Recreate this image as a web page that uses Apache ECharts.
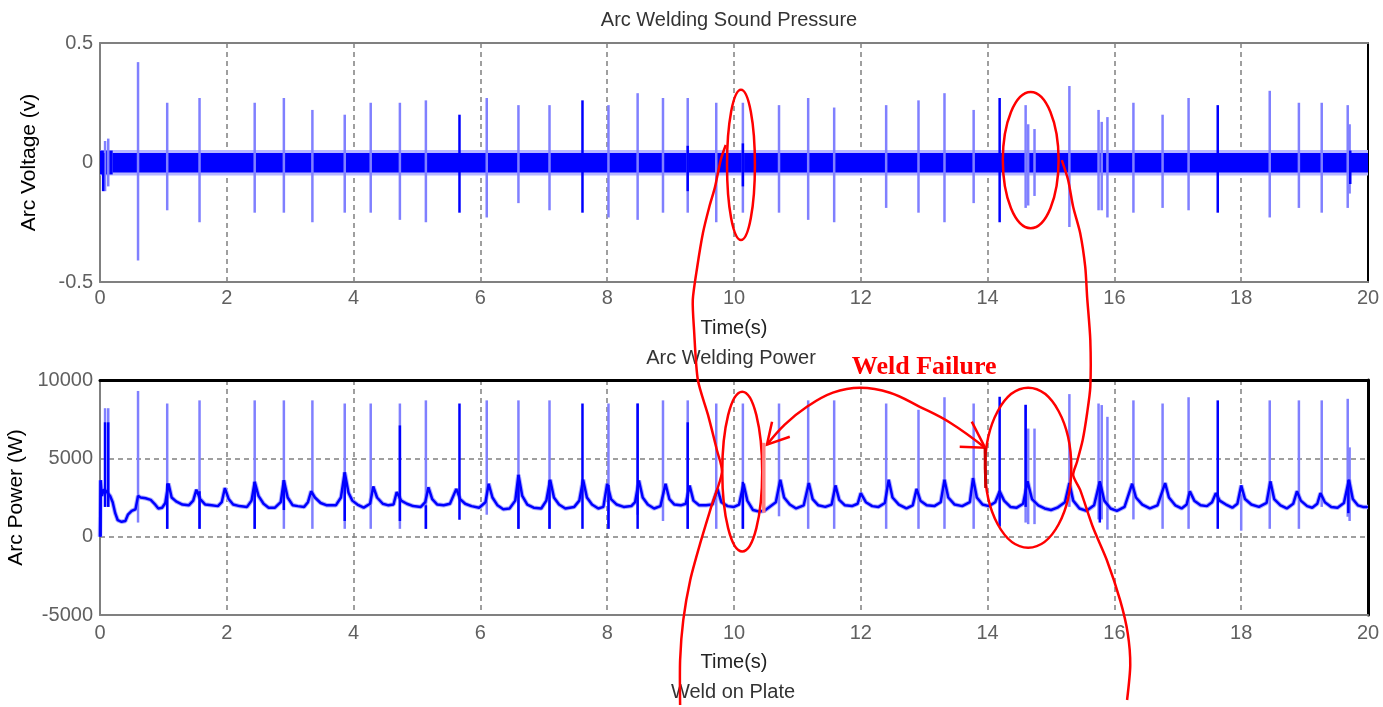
<!DOCTYPE html>
<html>
<head>
<meta charset="utf-8">
<title>Arc Welding Sound Pressure / Arc Welding Power</title>
<script src="https://cdn.jsdelivr.net/npm/echarts@6/dist/echarts.min.js"></script>
<style>
  html, body { margin: 0; padding: 0; background: #fff; }
  #chart { width: 1383px; height: 707px; }
</style>
</head>
<body>
<div id="chart"></div>
<script>
// ---- data ----
const timeTicks = [0, 20, 2]          // min, max, step of the time axes
const voltTicks = [-0.5, 0.5, 0.5]
const powerTicks = [-5000, 10000, 5000]

// arc voltage: noise band [t0, t1, lo, hi]
const voltNoise = [[0.0, 0.2, -0.05, 0.05], [0.2, 20.0, -0.042, 0.04]]
const voltFringe = [[0, 20, -0.054, 0.052]]
// arc voltage spikes [t, lo, hi]
const voltSpikes = [
  [0.08, -0.12, 0.09], [0.13, -0.10, 0.10], [0.6, -0.41, 0.42], [1.06, -0.20, 0.25],
  [1.57, -0.25, 0.27], [2.44, -0.21, 0.25], [2.9, -0.21, 0.27], [3.35, -0.25, 0.22],
  [3.86, -0.21, 0.20], [4.27, -0.21, 0.25], [4.73, -0.24, 0.25], [5.14, -0.25, 0.26],
  [6.1, -0.23, 0.27], [6.6, -0.17, 0.24], [7.09, -0.20, 0.24], [8.02, -0.23, 0.24],
  [8.48, -0.24, 0.29], [8.88, -0.21, 0.27], [9.27, -0.21, 0.27], [9.72, -0.25, 0.25],
  [10.14, -0.21, 0.25], [10.71, -0.21, 0.24], [11.17, -0.24, 0.27], [11.58, -0.25, 0.23],
  [12.4, -0.19, 0.24], [12.91, -0.21, 0.26], [13.32, -0.25, 0.29], [13.78, -0.17, 0.22],
  [14.6, -0.19, 0.24], [14.64, -0.18, 0.16], [14.74, -0.14, 0.14], [15.29, -0.27, 0.32],
  [15.75, -0.20, 0.22], [15.8, -0.20, 0.17], [15.89, -0.23, 0.19], [16.3, -0.21, 0.25],
  [16.76, -0.19, 0.20], [17.17, -0.20, 0.27], [18.45, -0.23, 0.30], [18.91, -0.19, 0.25],
  [19.27, -0.21, 0.25], [19.68, -0.19, 0.24], [19.71, -0.13, 0.16]
]
const voltDarkSpikes = [
  [0.05, -0.12, 0.04], [5.67, -0.21, 0.20], [7.61, -0.21, 0.26], [9.27, -0.12, 0.07],
  [10.14, -0.10, 0.08], [14.19, -0.25, 0.27], [17.63, -0.21, 0.24], [19.72, -0.09, 0.05]
]

// arc power: main trace [t, W]
const powerLine = [
  [0.00, 0], [0.01, 3600], [0.03, 2600], [0.06, 3000], [0.10, 2900], [0.16, 2600], [0.20, 2200],
  [0.24, 1500], [0.28, 1050], [0.34, 950], [0.40, 1000], [0.44, 1400], [0.50, 1650], [0.56, 1750],
  [0.60, 2600], [0.64, 2500], [0.72, 2450], [0.80, 2350], [0.86, 2100], [0.92, 1800], [0.98, 1850],
  [1.03, 2150], [1.08, 3400], [1.13, 2500], [1.20, 2250], [1.30, 2050], [1.40, 2000],
  [1.47, 2300], [1.52, 3000], [1.58, 2400], [1.66, 2050], [1.76, 2000], [1.86, 1950],
  [1.92, 2200], [1.97, 3100], [2.03, 2400], [2.10, 2050], [2.20, 1950], [2.32, 1900],
  [2.39, 2300], [2.44, 3500], [2.50, 2600], [2.58, 2100], [2.66, 1850], [2.76, 1850],
  [2.85, 2200], [2.90, 3600], [2.96, 2500], [3.04, 2000], [3.12, 1950], [3.22, 1900],
  [3.28, 2200], [3.33, 2900], [3.39, 2500], [3.48, 2150], [3.58, 2000], [3.72, 2000],
  [3.80, 2500], [3.86, 4100], [3.92, 2800], [3.98, 2300], [4.06, 2050], [4.16, 1850],
  [4.26, 2100], [4.31, 3200], [4.37, 2500], [4.46, 2100], [4.55, 2000], [4.63, 2050],
  [4.68, 2850], [4.75, 2300], [4.84, 2100], [4.94, 1950], [5.06, 1900],
  [5.13, 2200], [5.18, 3150], [5.24, 2400], [5.32, 2050], [5.42, 2000], [5.52, 2100],
  [5.62, 3050], [5.68, 2400], [5.76, 2100], [5.86, 1950], [5.98, 1850],
  [6.08, 2200], [6.13, 3380], [6.19, 2500], [6.27, 2000], [6.36, 1750], [6.46, 1800],
  [6.55, 2300], [6.60, 3950], [6.66, 2600], [6.74, 2050], [6.84, 1850], [6.96, 1800],
  [7.04, 2300], [7.10, 3640], [7.16, 2500], [7.24, 2050], [7.34, 1800], [7.48, 1900],
  [7.56, 2300], [7.62, 3640], [7.68, 2500], [7.76, 2050], [7.86, 1800], [7.94, 1900],
  [8.00, 3380], [8.06, 2400], [8.15, 2050], [8.26, 1900], [8.38, 1950],
  [8.44, 2200], [8.50, 3590], [8.56, 2500], [8.64, 2050], [8.74, 1800], [8.84, 1950],
  [8.92, 3380], [8.98, 2400], [9.06, 2050], [9.16, 2000], [9.24, 2100],
  [9.30, 3270], [9.36, 2300], [9.45, 2000], [9.56, 2000], [9.66, 2050],
  [9.74, 3050], [9.80, 2200], [9.90, 1950], [10.00, 1900], [10.08, 2050],
  [10.15, 3380], [10.21, 2300], [10.30, 1700], [10.40, 1600], [10.48, 1650], [10.56, 1900], [10.66, 2200],
  [10.73, 3640], [10.79, 2500], [10.88, 2050], [10.98, 1800], [11.10, 2000],
  [11.18, 3420], [11.24, 2400], [11.33, 2000], [11.44, 1900], [11.54, 2050],
  [11.60, 3270], [11.66, 2350], [11.75, 2000], [11.86, 1950], [11.95, 2100],
  [12.00, 2780], [12.08, 2200], [12.18, 1950], [12.28, 1900], [12.38, 2150],
  [12.44, 3640], [12.50, 2500], [12.60, 2050], [12.72, 1800], [12.82, 2000],
  [12.88, 3050], [12.94, 2300], [13.04, 2000], [13.16, 1950], [13.26, 2200],
  [13.32, 3640], [13.38, 2500], [13.48, 2050], [13.60, 1950], [13.72, 2200],
  [13.77, 3740], [13.83, 2500], [13.92, 2050], [14.02, 1950], [14.12, 2200],
  [14.19, 2900], [14.26, 2300], [14.36, 1900], [14.46, 1850], [14.56, 2100],
  [14.63, 3530], [14.70, 2400], [14.80, 2000], [14.90, 1800], [15.00, 1700], [15.10, 1850], [15.22, 2200],
  [15.29, 3420], [15.35, 2300], [15.45, 1800], [15.56, 1650], [15.68, 2000],
  [15.77, 3530], [15.84, 2300], [15.94, 1800], [16.04, 1650], [16.16, 1900],
  [16.28, 3380], [16.34, 2500], [16.44, 2050], [16.56, 1800], [16.68, 2000],
  [16.80, 3420], [16.86, 2500], [16.96, 2000], [17.06, 1800], [17.14, 2050],
  [17.19, 2900], [17.26, 2300], [17.36, 2000], [17.46, 1950], [17.54, 2200],
  [17.60, 2780], [17.66, 2300], [17.76, 2050], [17.86, 1850], [17.94, 2100],
  [18.00, 3270], [18.06, 2400], [18.16, 2050], [18.28, 1900], [18.40, 2150],
  [18.46, 3530], [18.52, 2400], [18.62, 2000], [18.72, 1800], [18.82, 2100],
  [18.88, 2900], [18.94, 2300], [19.04, 1950], [19.12, 1850], [19.20, 2100],
  [19.25, 2780], [19.32, 2200], [19.42, 1900], [19.52, 1850], [19.62, 2150],
  [19.70, 3640], [19.76, 2400], [19.84, 2000], [19.92, 1900], [20.00, 1900]
]
// arc power spikes [t, lo, hi]
const powerSpikes = [
  [0.08, 1900, 8200], [0.13, 1900, 8200], [0.6, 900, 9300], [1.06, 500, 8500],
  [1.57, 500, 8700], [2.44, 500, 8700], [2.9, 500, 8700], [3.35, 500, 8700],
  [3.86, 500, 8500], [4.27, 500, 8500], [4.73, 500, 8500], [5.14, 500, 8700],
  [6.1, 1400, 8700], [6.6, 500, 8700], [7.09, 500, 8700], [8.02, 500, 8500],
  [8.48, 1400, 8500], [8.88, 1000, 8700], [9.27, 500, 8700], [9.72, 500, 8500],
  [10.14, 500, 8500], [10.71, 1300, 8500], [11.17, 500, 8700], [11.58, 500, 8700],
  [12.4, 500, 8500], [12.91, 500, 8100], [13.32, 500, 8900], [13.78, 500, 8500],
  [14.6, 900, 8400], [14.64, 800, 6900], [14.74, 800, 6900], [15.29, 1900, 9100],
  [15.75, 1100, 8500], [15.8, 1100, 8400], [15.89, 450, 7650], [16.3, 1100, 8700],
  [16.76, 500, 8500], [17.17, 500, 8900], [18.0, 380, 2700], [18.45, 500, 8700],
  [18.91, 500, 8700], [19.27, 1900, 8700], [19.68, 1270, 8800], [19.71, 1000, 5700]
]
const powerDarkSpikes = [
  [0.01, 0, 3600], [0.08, 1900, 7300], [0.13, 1900, 7300], [1.06, 500, 3400],
  [1.57, 500, 2900], [2.44, 500, 3500], [2.9, 1700, 3600], [3.86, 1000, 4100],
  [4.73, 1000, 7100], [5.14, 500, 2000], [5.67, 1080, 8500], [6.6, 500, 3900],
  [7.09, 500, 3600], [7.61, 500, 8500], [8.02, 500, 3300], [8.48, 500, 8500],
  [9.27, 500, 7300], [10.14, 500, 3500], [14.19, 640, 8930], [14.6, 1900, 8420],
  [15.77, 900, 3500], [17.63, 500, 8700], [19.69, 1500, 3600]
]

// red hand-drawn marks, in axis units
const topEllipses = [[10.11, -0.01, 0.22, 0.314], [14.68, 0.01, 0.44, 0.285]]      // [t, v, half-t, half-v]
const bottomEllipses = [[10.13, 4150, 0.315, 5100], [14.64, 4400, 0.68, 5100]]
// long strokes, in arc-voltage units (run down past the upper plot)
const strokeLeft = [
  [9.87, 0.073], [9.79, 0.01], [9.70, -0.103], [9.61, -0.186], [9.51, -0.295], [9.42, -0.437],
  [9.35, -0.575], [9.37, -0.701], [9.43, -0.91], [9.59, -1.056], [9.73, -1.203], [9.81, -1.295],
  [9.65, -1.433], [9.46, -1.6], [9.31, -1.747], [9.2, -1.914], [9.15, -2.082], [9.15, -2.27]
]
const strokeRight = [
  [15.17, 0.01], [15.27, -0.073], [15.35, -0.186], [15.46, -0.295], [15.54, -0.437], [15.57, -0.563],
  [15.62, -0.743], [15.62, -0.939], [15.57, -1.048], [15.5, -1.161], [15.41, -1.253], [15.35, -1.308],
  [15.46, -1.37], [15.66, -1.525], [15.88, -1.663], [16.09, -1.831], [16.21, -1.969], [16.25, -2.103], [16.2, -2.249]
]
// arrow arc, in arc-power units
const arrowArc = [
  [10.52, 5870], [10.8, 7150], [11.15, 8290], [11.56, 9190], [11.99, 9510],
  [12.46, 9190], [12.93, 8290], [13.41, 7270], [13.96, 5680]
]
const arrowHeads = [
  [[10.60, 7340], [10.52, 5870], [10.88, 6380]],
  [[13.75, 7340], [13.96, 5680], [13.56, 5740]]
]
const arrowStems = [[[10.47, 5990], [10.47, 1530], '#ff8080', 3.5], [[13.96, 5680], [13.97, 3100], '#cc0000', 3]]
const failureLabel = ['Weld Failure', 13.0, 10800]

// ---- styles ----
const FONT = '"Liberation Sans", Arial, sans-serif'
const LIGHT = '#8080ff'
const DARK = '#0000ff'
const RED = '#ff0000'
const GRID_LINE = { show: true, lineStyle: { color: '#808080', type: [5, 4], width: 1.5 } }
const tickLabel = { color: '#606060', fontSize: 20, fontFamily: FONT }
const nameStyle = { color: '#222', fontSize: 20, fontFamily: FONT }

const spikeItem = (color, width) => (params, api) => {
  const a = api.coord([api.value(0), api.value(1)])
  const b = api.coord([api.value(0), api.value(2)])
  return { type: 'line', shape: { x1: a[0], y1: a[1], x2: b[0], y2: b[1] }, style: { stroke: color, lineWidth: width } }
}
const bandItem = color => (params, api) => {
  const p0 = api.coord([api.value(0), api.value(3)])
  const p1 = api.coord([api.value(1), api.value(2)])
  return { type: 'rect', shape: { x: p0[0], y: p0[1], width: p1[0] - p0[0], height: p1[1] - p0[1] }, style: { fill: color } }
}

const timeAxis = (grid, pos, extra) => Object.assign({
  type: 'value', gridIndex: grid, position: pos,
  min: timeTicks[0], max: timeTicks[1], interval: timeTicks[2],
  axisTick: { show: false }, axisLabel: { show: false }, splitLine: { show: false }
}, extra)
const valueAxis = (grid, pos, ticks, extra) => Object.assign({
  type: 'value', gridIndex: grid, position: pos,
  min: ticks[0], max: ticks[1], interval: ticks[2],
  axisTick: { show: false }, axisLabel: { show: false }, splitLine: { show: false }
}, extra)

const chart = echarts.init(document.getElementById('chart'))

const option = {
  animation: false,
  backgroundColor: '#fff',
  grid: [
    { left: 100, top: 43, width: 1268, height: 239, outerBoundsMode: 'none', containLabel: false },
    { left: 100, top: 380, width: 1268, height: 235, outerBoundsMode: 'none', containLabel: false }
  ],
  xAxis: [
    timeAxis(0, 'bottom', {
      axisLine: { onZero: false, lineStyle: { color: '#808080', width: 2 } },
      axisLabel: Object.assign({ margin: 6 }, tickLabel),
      splitLine: GRID_LINE,
      name: 'Time(s)', nameLocation: 'middle', nameGap: 36, nameTextStyle: nameStyle
    }),
    timeAxis(0, 'top', { axisLine: { onZero: false, lineStyle: { color: '#808080', width: 2 } } }),
    timeAxis(1, 'bottom', {
      axisLine: { onZero: false, lineStyle: { color: '#808080', width: 2 } },
      axisLabel: Object.assign({ margin: 8 }, tickLabel),
      splitLine: GRID_LINE,
      name: 'Time(s)', nameLocation: 'middle', nameGap: 37, nameTextStyle: nameStyle
    }),
    timeAxis(1, 'top', { axisLine: { onZero: false, lineStyle: { color: '#000', width: 3 } } })
  ],
  yAxis: [
    valueAxis(0, 'left', voltTicks, {
      axisLine: { show: true, onZero: false, lineStyle: { color: '#808080', width: 2 } },
      axisLabel: Object.assign({ margin: 7 }, tickLabel),
      name: 'Arc Voltage (v)', nameLocation: 'middle', nameGap: 60,
      nameTextStyle: Object.assign({}, nameStyle, { color: '#000', fontSize: 21 })
    }),
    valueAxis(0, 'right', voltTicks, { axisLine: { show: true, onZero: false, lineStyle: { color: '#000', width: 2 } } }),
    valueAxis(1, 'left', powerTicks, {
      axisLine: { show: true, onZero: false, lineStyle: { color: '#808080', width: 2 } },
      axisLabel: Object.assign({ margin: 7, formatter: v => String(v) }, tickLabel),
      splitLine: GRID_LINE,
      name: 'Arc Power (W)', nameLocation: 'middle', nameGap: 71,
      nameTextStyle: Object.assign({}, nameStyle, { color: '#000', fontSize: 21 })
    }),
    valueAxis(1, 'right', powerTicks, { axisLine: { show: true, onZero: false, lineStyle: { color: '#000', width: 3 } } })
  ],
  series: [
    { type: 'custom', name: 'voltFringe', xAxisIndex: 0, yAxisIndex: 0, data: voltFringe, renderItem: bandItem('#b8b8ff'), z: 2 },
    { type: 'custom', name: 'voltNoise', xAxisIndex: 0, yAxisIndex: 0, data: voltNoise, renderItem: bandItem(DARK), z: 3 },
    { type: 'custom', name: 'voltSpikes', xAxisIndex: 0, yAxisIndex: 0, data: voltSpikes, renderItem: spikeItem(LIGHT, 2.5), z: 4 },
    { type: 'custom', name: 'voltDark', xAxisIndex: 0, yAxisIndex: 0, data: voltDarkSpikes, renderItem: spikeItem(DARK, 2.5), z: 5 },
    { type: 'custom', name: 'powerSpikes', xAxisIndex: 2, yAxisIndex: 2, data: powerSpikes, renderItem: spikeItem(LIGHT, 2.5), z: 3 },
    {
      type: 'line', name: 'powerHalo', xAxisIndex: 2, yAxisIndex: 2, data: powerLine,
      showSymbol: false, lineStyle: { color: '#b0b0ff', width: 4.5 }, z: 2
    },
    {
      type: 'line', name: 'power', xAxisIndex: 2, yAxisIndex: 2, data: powerLine,
      showSymbol: false, lineStyle: { color: DARK, width: 2.5 }, z: 4
    },
    { type: 'custom', name: 'powerDark', xAxisIndex: 2, yAxisIndex: 2, data: powerDarkSpikes, renderItem: spikeItem(DARK, 2.5), z: 5 }
  ]
}
chart.setOption(option)

// titles and the red hand-drawn marks
const toTop = p => chart.convertToPixel({ xAxisIndex: 0, yAxisIndex: 0 }, p)
const toBottom = p => chart.convertToPixel({ xAxisIndex: 2, yAxisIndex: 2 }, p)

const text = (str, x, y, extra) => ({
  type: 'text', x, y, z: 50,
  style: Object.assign({ text: str, align: 'center', verticalAlign: 'middle', fontSize: 20, fontFamily: FONT, fill: '#333' }, extra)
})
const ellipse = (conv, e) => {
  const c = conv([e[0], e[1]])
  const r = conv([e[0] + e[2], e[1] + e[3]])
  return {
    type: 'ellipse', z: 100,
    shape: { cx: c[0], cy: c[1], rx: Math.abs(r[0] - c[0]), ry: Math.abs(r[1] - c[1]) },
    style: { fill: 'none', stroke: RED, lineWidth: 2.5 }
  }
}
const stroke = (conv, pts, smooth, color, width) => ({
  type: 'polyline', z: 100,
  shape: { points: pts.map(conv), smooth },
  style: { fill: 'none', stroke: color || RED, lineWidth: width || 2.5 }
})

const graphics = [
  text('Arc Welding Sound Pressure', 729, 20),
  text('Arc Welding Power', 731, 358),
  text('Weld on Plate', 733, 692)
]
topEllipses.forEach(e => graphics.push(ellipse(toTop, e)))
bottomEllipses.forEach(e => graphics.push(ellipse(toBottom, e)))
graphics.push(stroke(toTop, strokeLeft, 0.25))
graphics.push(stroke(toTop, strokeRight, 0.25))
graphics.push(stroke(toBottom, arrowArc, 0.4))
arrowHeads.forEach(h => graphics.push(stroke(toBottom, h, 0)))
arrowStems.forEach(s => graphics.push(stroke(toBottom, [s[0], s[1]], 0, s[2], s[3])))
const lp = toBottom([failureLabel[1], failureLabel[2]])
graphics.push(text(failureLabel[0], lp[0], lp[1], {
  fontSize: 26, fontWeight: 'bold', fontFamily: '"Liberation Serif", "Times New Roman", serif', fill: RED
}))

chart.setOption({ graphic: graphics })
window.addEventListener('resize', () => chart.resize())
</script>
</body>
</html>
